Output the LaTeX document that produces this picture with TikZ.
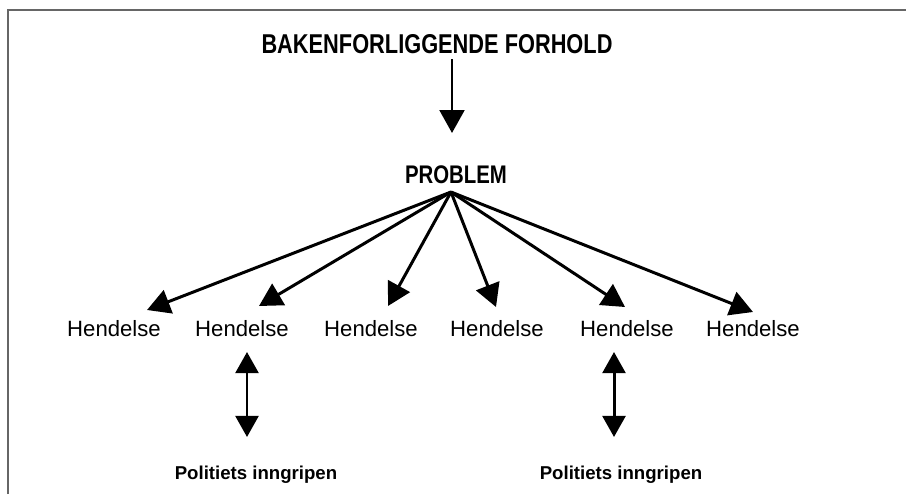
\documentclass[tikz,border=0pt]{standalone}
\usepackage{fontspec}
\setmainfont{Liberation Sans}
\newfontfamily\condfont{Liberation Sans}[FakeStretch=0.8]
\usetikzlibrary{arrows.meta}

\tikzset{
    heading/.style={anchor=base, inner sep=0pt, font=\condfont\bfseries\fontsize{15.5}{18}\selectfont},
    event/.style={anchor=base, inner sep=0pt, font=\fontsize{12.6}{15}\selectfont},
    police/.style={anchor=base, inner sep=0pt, font=\bfseries\fontsize{10.6}{13}\selectfont},
    pointer/.style={line width=1.7pt, -{Triangle[width=14pt,length=13pt]}},
    twoway/.style={line width=1.7pt, {Triangle[width=13pt,length=12pt]}-{Triangle[width=13pt,length=12pt]}}
}

\begin{document}
\begin{tikzpicture}[x=0.02cm, y=-0.02cm]
    \useasboundingbox (0,0) rectangle (906,494);
    \draw[line width=1.1pt, black!60] (8,494) -- (8,10) -- (906,10);

    \node[heading] (title) at (437,53) {BAKENFORLIGGENDE FORHOLD};
    \node[heading, font=\condfont\bfseries\fontsize{14.5}{17}\selectfont] (problem) at (456,183) {PROBLEM};

    \coordinate (down) at (452,59);
    \coordinate (downtip) at (452,133);
    \draw[pointer] (down) -- (downtip);

    % hendelser
    \node[event] (h1) at (114,336) {Hendelse};
    \node[event] (h2) at (242,336) {Hendelse};
    \node[event] (h3) at (371,336) {Hendelse};
    \node[event] (h4) at (497,336) {Hendelse};
    \node[event] (h5) at (627,336) {Hendelse};
    \node[event] (h6) at (753,336) {Hendelse};

    \coordinate (fan) at (451,192);
    \coordinate (t1) at (147,310);
    \coordinate (t2) at (259,306);
    \coordinate (t3) at (388,306);
    \coordinate (t4) at (496,307);
    \coordinate (t5) at (625,307);
    \coordinate (t6) at (753,312);
    \foreach \t in {t1,t2,t3,t4,t5,t6}
        \draw[pointer] (fan) -- (\t);

    % politiets inngripen
    \node[police] (p1) at (256,479) {Politiets inngripen};
    \node[police] (p2) at (621,479) {Politiets inngripen};

    \coordinate (a1) at (247,352);
    \coordinate (b1) at (247,437);
    \coordinate (a2) at (614,352);
    \coordinate (b2) at (614,437);
    \draw[twoway] (a1) -- (b1);
    \draw[twoway] (a2) -- (b2);
\end{tikzpicture}
\end{document}
